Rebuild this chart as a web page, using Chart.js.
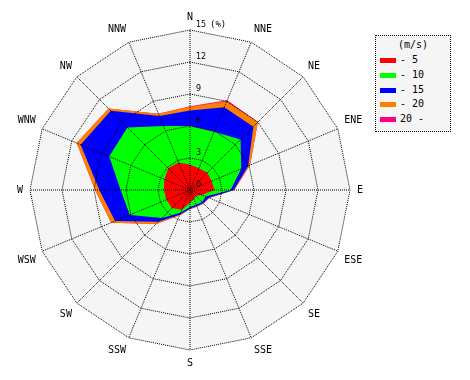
<!DOCTYPE html>
<html>
<head>
<meta charset="utf-8">
<script src="https://cdn.jsdelivr.net/npm/chart.js@4.4.1/dist/chart.umd.min.js"></script>
<style>
html,body{margin:0;padding:0;background:#fff;}
#wrap{position:relative;width:470px;height:380px;overflow:hidden;}
#cw{position:absolute;left:0;top:0;width:381px;height:381px;}
#legend{position:absolute;left:375px;top:35px;width:76px;height:97px;border:1px dotted #000;background:#f5f5f5;box-sizing:border-box;font:10px "DejaVu Sans Mono",monospace;color:#000;}
#legend .ttl{position:absolute;left:0;width:100%;top:3px;text-align:center;line-height:12px;color:#000;}
#legend .row{position:absolute;left:4px;height:12px;line-height:12px;white-space:pre;}
#legend .sw{position:absolute;left:0;top:4px;width:16px;height:5px;}
#legend .tx{position:absolute;left:20px;top:0;}
</style>
</head>
<body>
<div id="wrap">
  <div id="cw"><canvas id="c"></canvas></div>
  <div id="legend"></div>
</div>
<script>
// ---- data (cumulative frequency %, by direction, N clockwise) ----
const directions = ['N','NNE','NE','ENE','E','ESE','SE','SSE','S','SSW','SW','WSW','W','WNW','NW','NNW'];
const speedTitle = '(m/s)';
const speedClasses = ['- 5','- 10','- 15','- 20','20 -'];
const classColors = ['#ff0000','#00ff00','#0000ff','#ff8000','#ff0080'];
const upTo5  = [2.4, 2.2, 2.3, 2.2, 2.3, 1.2, 0.8, 0.95, 1.2, 2.0, 2.4, 2.4, 2.45, 2.6, 2.9, 2.8];
const upTo10 = [6.0, 5.9, 6.7, 5.2, 3.8, 1.6, 1.6, 1.5, 1.6, 2.3, 3.7, 6.1, 6.5, 8.2, 8.3, 6.5];
const upTo15 = [7.45, 8.4, 8.4, 5.9, 4.1, 1.9, 1.75, 1.65, 1.75, 2.5, 4.2, 7.6, 8.5, 11.1, 10.5, 7.5];
const upTo20 = [7.8, 9.0, 9.0, 6.1, 4.15, 1.95, 1.8, 1.7, 1.8, 2.6, 4.5, 8.0, 8.9, 11.5, 10.8, 7.75];
const above20 = [7.85, 9.1, 9.0, 6.1, 4.15, 1.95, 1.8, 1.7, 1.8, 2.6, 4.5, 8.0, 8.9, 11.5, 10.8, 7.75];
const tickValues = [0, 3, 6, 9, 12, 15];
const unitLabel = '(%)';
const series = [upTo5, upTo10, upTo15, upTo20, above20];

// ---- legend ----
const lg = document.getElementById('legend');
const t = document.createElement('div'); t.className = 'ttl'; t.textContent = speedTitle; lg.appendChild(t);
speedClasses.forEach((name, i) => {
  const r = document.createElement('div'); r.className = 'row';
  r.style.top = (18 + i * 14.8) + 'px';
  const s = document.createElement('div'); s.className = 'sw'; s.style.background = classColors[i];
  const x = document.createElement('div'); x.className = 'tx'; x.textContent = name;
  r.appendChild(s); r.appendChild(x); lg.appendChild(r);
});

// ---- plugins ----
const bgPlugin = {
  id: 'roseBg',
  beforeDatasetsDraw(chart) {
    const s = chart.scales.r, ctx = chart.ctx;
    ctx.save();
    ctx.beginPath();
    for (let i = 0; i < directions.length; i++) {
      const p = s.getPointPositionForValue(i, s.max);
      if (i === 0) ctx.moveTo(p.x, p.y); else ctx.lineTo(p.x, p.y);
    }
    ctx.closePath();
    ctx.fillStyle = '#f5f5f5';
    ctx.fill();
    ctx.restore();
  }
};
const tickPlugin = {
  id: 'roseTicks',
  afterDraw(chart) {
    const s = chart.scales.r, ctx = chart.ctx;
    ctx.save();
    ctx.fillStyle = '#000';
    ctx.textAlign = 'left';
    ctx.textBaseline = 'middle';
    ctx.font = '8px "DejaVu Sans"';
    tickValues.forEach(v => {
      const p = s.getPointPositionForValue(0, v);
      ctx.fillText(String(v), p.x + 6, p.y - 5);
    });
    const top = s.getPointPositionForValue(0, s.max);
    ctx.font = '9px "DejaVu Sans Mono"';
    ctx.fillText(unitLabel, top.x + 20, top.y - 5);
    ctx.restore();
  }
};

new Chart(document.getElementById('c'), {
  type: 'radar',
  data: {
    labels: directions,
    datasets: series.map((d, i) => ({
      label: speedClasses[i],
      data: d,
      backgroundColor: classColors[i],
      borderColor: classColors[i],
      borderWidth: 0,
      fill: true,
      pointRadius: 0,
      pointHoverRadius: 0
    }))
  },
  options: {
    responsive: true,
    maintainAspectRatio: false,
    animation: false,
    layout: { padding: 11 },
    elements: { line: { tension: 0 } },
    plugins: { legend: { display: false }, tooltip: { enabled: false } },
    scales: {
      r: {
        min: 0, max: 15,
        startAngle: 0,
        ticks: { display: false, stepSize: 3 },
        grid: { color: '#000', lineWidth: 1, circular: false, borderDash: [1, 1], z: 1 },
        border: { dash: [1, 1] },
        angleLines: { display: true, color: '#000', lineWidth: 1, borderDash: [1, 1] },
        pointLabels: { color: '#000', padding: 7, font: { family: 'DejaVu Sans Mono', size: 10 } }
      }
    }
  },
  plugins: [bgPlugin, tickPlugin]
});
</script>
</body>
</html>
